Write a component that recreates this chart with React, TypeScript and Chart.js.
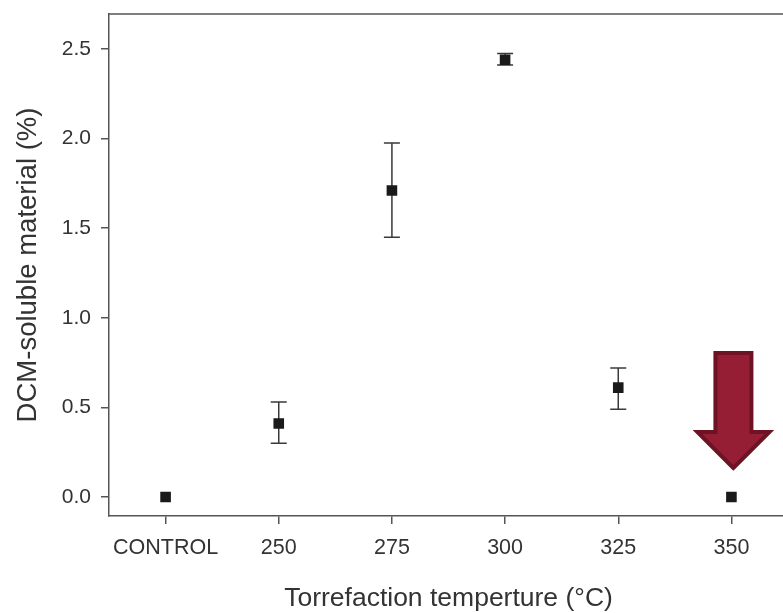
import React, { useEffect, useRef } from "react";
import { Chart, registerables } from "chart.js";

Chart.register(...registerables);

const categories = ["CONTROL", "250", "275", "300", "325", "350"];
const meanValues = [0.0, 0.41, 1.71, 2.44, 0.61, 0.0];
const errLow: (number | null)[] = [null, 0.30, 1.45, 2.41, 0.49, null];
const errHigh: (number | null)[] = [null, 0.53, 1.975, 2.475, 0.72, null];
const yTickValues = [0, 0.5, 1.0, 1.5, 2.0, 2.5];
const highlightIndex = 5;

const FONT = "'Liberation Sans', Arial, Helvetica, sans-serif";

const errorBarPlugin = {
  id: "errorBars",
  beforeDatasetsDraw(chart: any) {
    const { ctx, scales } = chart;
    const xs = scales.x;
    const ys = scales.y;
    ctx.save();
    ctx.strokeStyle = "#3a3a3a";
    ctx.lineWidth = 1.5;
    const cap = 8;
    for (let i = 0; i < categories.length; i++) {
      const lo = errLow[i];
      const hi = errHigh[i];
      if (lo == null || hi == null) continue;
      const x = xs.getPixelForValue(i);
      const yl = ys.getPixelForValue(lo);
      const yh = ys.getPixelForValue(hi);
      ctx.beginPath();
      ctx.moveTo(x, yl);
      ctx.lineTo(x, yh);
      ctx.moveTo(x - cap, yl);
      ctx.lineTo(x + cap, yl);
      ctx.moveTo(x - cap, yh);
      ctx.lineTo(x + cap, yh);
      ctx.stroke();
    }
    ctx.restore();
  },
};

const frameAndArrowPlugin = {
  id: "frameAndArrow",
  afterDraw(chart: any) {
    const { ctx, chartArea, scales } = chart;
    ctx.save();
    // top frame line
    ctx.strokeStyle = "#555";
    ctx.lineWidth = 1.5;
    ctx.beginPath();
    ctx.moveTo(chartArea.left, chartArea.top);
    ctx.lineTo(chartArea.right, chartArea.top);
    ctx.stroke();

    // red arrow pointing to highlighted point
    const px = scales.x.getPixelForValue(highlightIndex) + 2;
    const py = scales.y.getPixelForValue(meanValues[highlightIndex]);
    const tipY = py - 29;
    const headH = 36;
    const headHalf = 36;
    const shaftHalf = 18;
    const shaftTop = tipY - 115;
    ctx.beginPath();
    ctx.moveTo(px, tipY);
    ctx.lineTo(px - headHalf, tipY - headH);
    ctx.lineTo(px - shaftHalf, tipY - headH);
    ctx.lineTo(px - shaftHalf, shaftTop);
    ctx.lineTo(px + shaftHalf, shaftTop);
    ctx.lineTo(px + shaftHalf, tipY - headH);
    ctx.lineTo(px + headHalf, tipY - headH);
    ctx.closePath();
    ctx.fillStyle = "#961e34";
    ctx.fill();
    ctx.lineJoin = "miter";
    ctx.lineWidth = 4;
    ctx.strokeStyle = "#6e1323";
    ctx.stroke();
    ctx.restore();
  },
};

export default function App() {
  const canvasRef = useRef<HTMLCanvasElement | null>(null);

  useEffect(() => {
    const canvas = canvasRef.current;
    if (!canvas) return;
    const chart = new Chart(canvas, {
      type: "line",
      data: {
        labels: categories,
        datasets: [
          {
            data: meanValues,
            showLine: false,
            pointStyle: "rect",
            pointRadius: 7.5,
            pointHoverRadius: 7.5,
            backgroundColor: "#1a1a1a",
            borderColor: "#1a1a1a",
            pointBorderWidth: 0,
          },
        ],
      },
      options: {
        animation: false,
        responsive: false,
        devicePixelRatio: 1,
        events: [],
        layout: { padding: { left: 0, right: 12, top: 14, bottom: 0 } },
        plugins: {
          legend: { display: false },
          tooltip: { enabled: false },
        },
        scales: {
          x: {
            type: "category",
            offset: true,
            afterFit(scale: any) {
              scale.height = 97;
              scale.paddingLeft = 0;
              scale.paddingRight = 0;
            },
            grid: {
              drawOnChartArea: false,
              drawTicks: true,
              tickLength: 8,
              color: "#555",
              lineWidth: 1.5,
              offset: false,
            },
            border: { display: true, color: "#555", width: 1.5 },
            ticks: {
              color: "#333",
              font: { family: FONT, size: 21.5 },
              padding: 11,
              maxRotation: 0,
              autoSkip: false,
            },
            title: {
              display: true,
              text: "Torrefaction temperture (°C)",
              color: "#333",
              font: { family: FONT, size: 26.5 },
              padding: { top: 0, bottom: -2 },
            },
          },
          y: {
            type: "linear",
            min: -0.106,
            max: 2.695,
            afterFit(scale: any) {
              scale.width = 109;
              scale.paddingTop = 0;
              scale.paddingBottom = 0;
            },
            afterBuildTicks(scale: any) {
              scale.ticks = yTickValues.map((v) => ({ value: v }));
            },
            grid: {
              drawOnChartArea: false,
              drawTicks: true,
              tickLength: 8,
              color: "#555",
              lineWidth: 1.5,
            },
            border: { display: true, color: "#555", width: 1.5 },
            ticks: {
              color: "#333",
              font: { family: FONT, size: 21 },
              padding: 10,
              callback: (v: any) => Number(v).toFixed(1),
            },
            title: {
              display: true,
              text: "DCM-soluble material (%)",
              color: "#333",
              font: { family: FONT, size: 27.5 },
              padding: { top: 12, bottom: 0 },
            },
          },
        },
      },
      plugins: [errorBarPlugin, frameAndArrowPlugin],
    } as any);
    return () => chart.destroy();
  }, []);

  return (
    <div
      style={{
        position: "fixed",
        left: 0,
        top: 0,
        width: 783,
        height: 613,
        overflow: "hidden",
        background: "#fff",
      }}
    >
      <canvas
        ref={canvasRef}
        width={800}
        height={613}
        style={{ display: "block", width: 800, height: 613 }}
      />
    </div>
  );
}
